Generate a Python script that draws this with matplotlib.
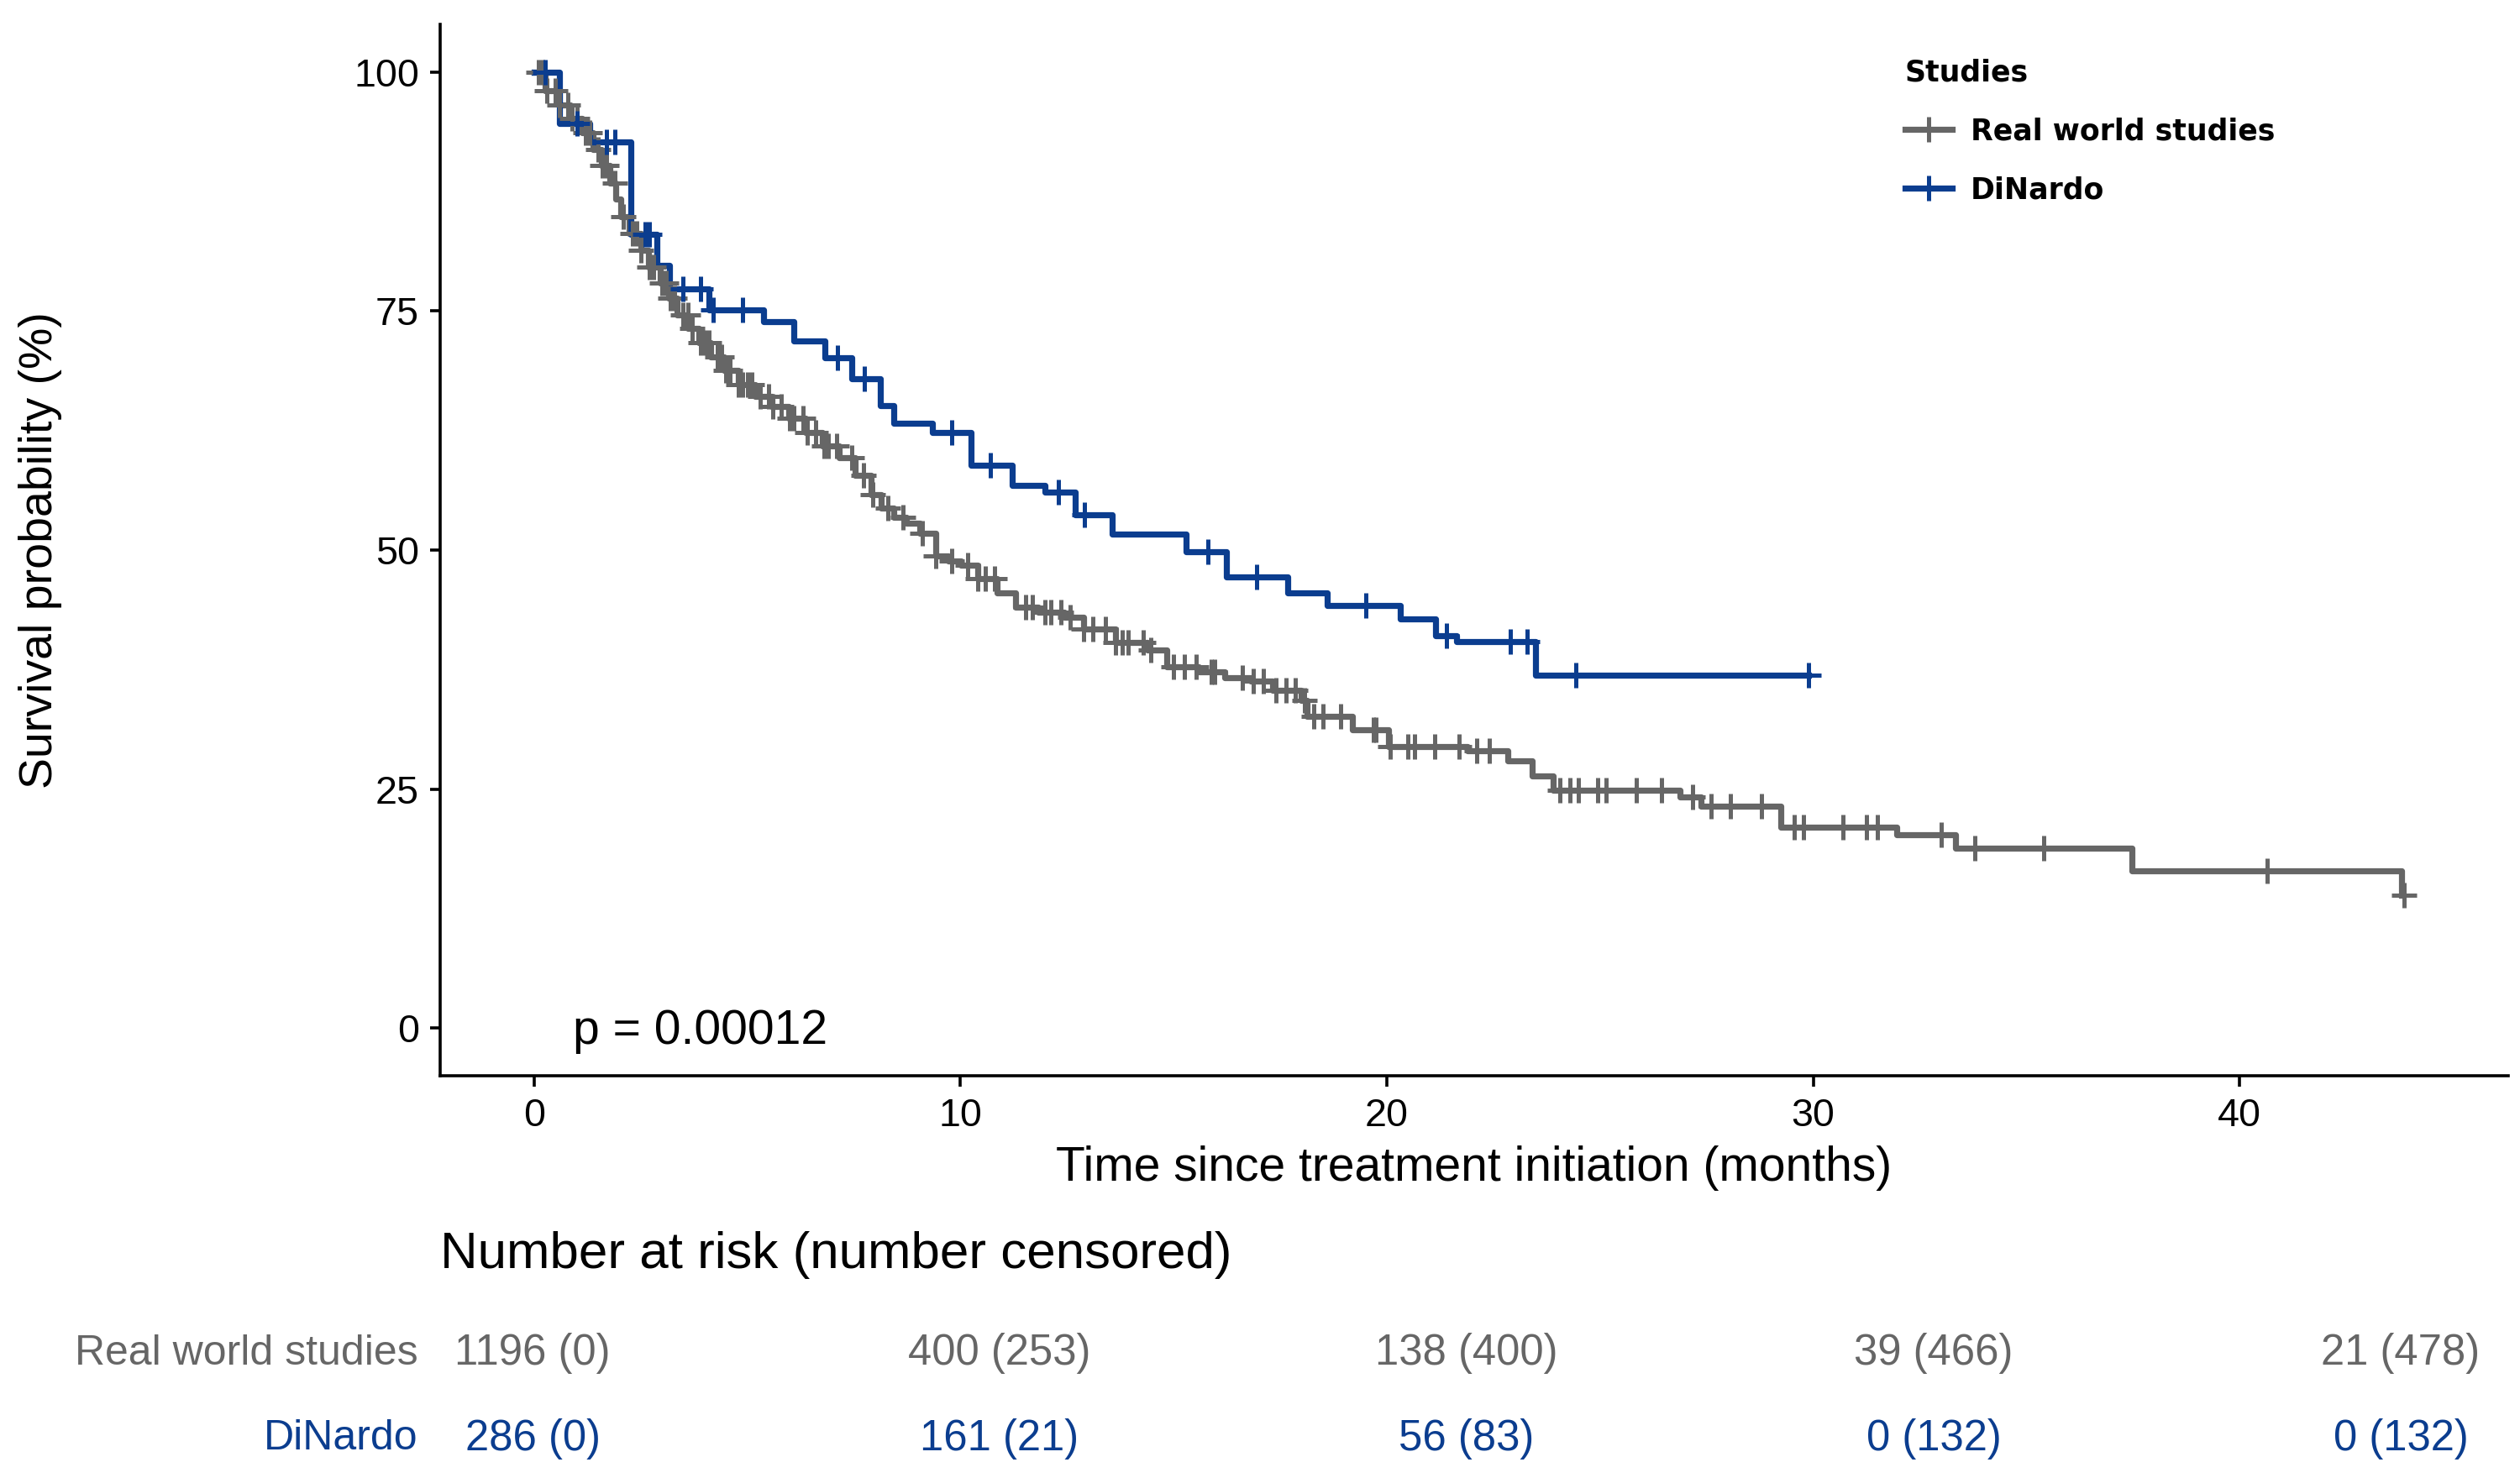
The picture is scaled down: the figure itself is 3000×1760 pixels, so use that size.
import numpy as np
import matplotlib.pyplot as plt
from matplotlib.lines import Line2D

plt.rcParams['font.family'] = ['Liberation Sans', 'DejaVu Sans']

# Kaplan-Meier steps (months, survival %)
rw_time = [0, 0.27, 0.59, 0.86, 1.12, 1.38, 1.58, 1.78, 1.91, 2.04, 2.23, 2.5, 2.69, 2.96,
           3.15, 3.35, 3.61, 3.87, 4.14, 4.46, 4.79, 5.19, 5.58, 5.97, 6.37, 6.76, 7.16,
           7.53, 7.9, 8.14, 8.43, 8.74, 9.04, 9.42, 9.71, 10.02, 10.4, 10.85,
           11.3, 11.83, 12.43, 12.88, 13.63, 14.39, 14.84, 15.59, 16.2, 16.8, 17.33,
           18.0, 18.13, 19.2, 20.05, 21.9, 22.84, 23.4, 23.9, 26.87, 27.36, 29.24,
           31.96, 33.34, 37.47, 43.8]
rw_surv = [100, 98.1, 96.6, 95.2, 93.7, 91.9, 90.2, 88.4, 86.7, 84.9, 83.1, 81.4, 79.6, 77.9,
           76.4, 74.6, 73.2, 71.7, 70.2, 68.8, 67.3, 66.1, 65.0, 63.8, 62.3, 60.9, 59.7,
           57.8, 55.8, 54.4, 53.4, 52.8, 51.75, 49.4, 48.9, 48.4, 47.05, 45.5,
           44.0, 43.5, 43.0, 41.7, 40.3, 39.5, 37.8, 37.3, 36.6, 36.3, 35.3,
           34.3, 32.6, 31.2, 29.4, 29.0, 27.9, 26.4, 24.9, 24.2, 23.2, 21.0,
           20.2, 18.8, 16.4, 13.9]
rw_cens = [0.1, 0.2, 0.3, 0.5, 0.6, 0.8, 0.9, 1.0, 1.2, 1.3, 1.5, 1.6, 1.7, 1.9, 2.1,
           2.3, 2.4, 2.5, 2.7, 2.8, 3.0, 3.1, 3.2, 3.3, 3.5, 3.6, 3.7, 3.9, 4.0, 4.1,
           4.3, 4.4, 4.5, 4.6, 4.8, 4.9, 5.0, 5.1, 5.3, 5.5, 5.6, 5.8, 6.0, 6.1, 6.3,
           6.4, 6.6, 6.8, 6.9, 7.1, 7.46, 7.72, 7.95, 8.29, 8.66, 9.11, 9.42, 9.79,
           10.17, 10.4, 10.58, 10.81, 11.53, 11.68, 11.98, 12.13, 12.35, 12.58, 12.88,
           13.11, 13.41, 13.63, 13.79, 13.94, 14.28, 14.46, 14.99, 15.25, 15.52, 15.89,
           15.97, 16.61, 16.87, 17.1, 17.4, 17.63, 17.85, 18.08, 18.28, 18.51, 18.92,
           19.68, 19.75, 20.08, 20.5, 20.65, 21.13, 21.7, 22.1, 22.4, 24.06, 24.3,
           24.5, 24.95, 25.15, 25.85, 26.45, 27.18, 27.6, 28.05, 28.78, 29.55, 29.78,
           30.7, 31.26, 31.5, 33.0, 33.8, 35.4, 40.65, 43.85]

dn_time = [0, 0.6, 1.3, 2.28, 2.88, 3.18, 4.1, 5.38, 6.1, 6.83, 7.45, 8.13, 8.43, 9.34,
           10.25, 11.22, 11.98, 12.69, 13.56, 15.29, 16.23, 17.67, 18.6, 20.32, 21.15,
           21.64, 23.48]
dn_surv = [100, 94.6, 92.7, 83.0, 79.8, 77.3, 75.1, 73.9, 71.85, 70.1, 67.9, 65.1, 63.3, 62.3,
           58.9, 56.8, 56.1, 53.7, 51.7, 49.8, 47.2, 45.5, 44.2, 42.8, 41.0,
           40.4, 36.9]
dn_cens = [0.27, 1.0, 1.7, 1.9, 2.6, 2.7, 3.5, 3.9, 4.2, 4.89, 7.12, 7.75, 9.8, 10.7,
           12.3, 12.9, 15.8, 16.95, 19.5, 21.4, 22.9, 23.3, 24.44, 29.9]
dn_last = 29.9

risk_times = [0, 10, 20, 30, 40]
rw_risk = ["1196 (0)", "400 (253)", "138 (400)", "39 (466)", "21 (478)"]
dn_risk = ["286 (0)", "161 (21)", "56 (83)", "0 (132)", "0 (132)"]
groups = ["Real world studies", "DiNardo"]

grey = "#666666"
blue = "#0b3d8f"


def surv_at(times, surv, t):
    idx = np.searchsorted(times, t, side='right') - 1
    return np.asarray(surv)[idx]


fig = plt.figure(figsize=(15, 8.8), dpi=200)
ax = fig.add_axes([0.1747, 0.2722, 0.8206, 0.7113])

lw = 2.6
ax.step(rw_time, rw_surv, where='post', color=grey, lw=lw)
ax.step(dn_time + [dn_last], dn_surv + [dn_surv[-1]], where='post', color=blue, lw=lw)
ax.plot(rw_cens, surv_at(rw_time, rw_surv, rw_cens), ls='none', marker='+',
        ms=10.5, mew=1.8, color=grey)
ax.plot(dn_cens, surv_at(dn_time, dn_surv, dn_cens), ls='none', marker='+',
        ms=10.5, mew=1.8, color=blue)

ax.set_xlim(-2.2, 46.3)
ax.set_ylim(-5, 105)
ax.set_xticks([0, 10, 20, 30, 40])
ax.set_yticks([0, 25, 50, 75, 100])
for s in ['top', 'right']:
    ax.spines[s].set_visible(False)
for s in ['left', 'bottom']:
    ax.spines[s].set_linewidth(1.3)
ax.tick_params(width=1.3, length=4.5, labelsize=16.8, colors='black')
ax.tick_params(axis='y', pad=4.5)
ax.tick_params(axis='x', pad=5)
ax.set_xlabel("Time since treatment initiation (months)", fontsize=20.5, labelpad=4.5)
ax.set_ylabel("Survival probability (%)", fontsize=20)
ax.yaxis.set_label_coords(-0.183, 0.5)

ax.text(0.92, -1.7, "p = 0.00012", fontsize=20.5, ha='left', va='baseline')

handles = [Line2D([], [], color=grey, lw=lw, marker='+', ms=10.5, mew=1.8),
           Line2D([], [], color=blue, lw=lw, marker='+', ms=10.5, mew=1.8)]
leg = ax.legend(handles, groups, title="Studies", loc='upper left',
                bbox_to_anchor=(0.756, 0.9605), bbox_transform=fig.transFigure,
                frameon=False, borderpad=0, borderaxespad=0, alignment='left',
                handlelength=1.6, handletextpad=0.65, labelspacing=1.03,
                prop={'family': 'DejaVu Sans', 'weight': 'bold', 'size': 12.5},
                title_fontproperties={'family': 'DejaVu Sans', 'weight': 'bold', 'size': 12.5})

# number at risk table
fig.text(0.1747, 0.151, "Number at risk (number censored)", fontsize=22.3,
         ha='left', va='center')
tab = fig.add_axes([0, -0.002, 1, 0.1148])
tab.set_xlim(-11.403, 42.554)
tab.set_ylim(1.5, -0.5)
tab.axis('off')
for row, (lab, vals, col) in enumerate(zip(groups, [rw_risk, dn_risk], [grey, blue])):
    tab.text(-2.45, row, lab, color=col, fontsize=18, ha='right', va='center')
    for t, v in zip(risk_times, vals):
        tab.text(t, row, v, color=col, fontsize=18.3, ha='center', va='center')

fig.savefig("out.png", dpi=200)
